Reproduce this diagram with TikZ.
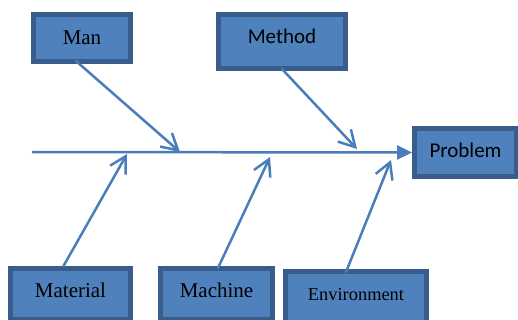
\documentclass[tikz,border=0pt]{standalone}
\usepackage{fontspec}
\setmainfont{Liberation Serif}
\newfontfamily\calibri{Carlito}
\usetikzlibrary{arrows.meta}
\definecolor{boxfill}{RGB}{79,129,189}
\definecolor{boxline}{RGB}{56,93,138}
\definecolor{bonecol}{RGB}{74,126,187}
\begin{document}
\begin{tikzpicture}[x=1pt,y=-1pt,
    cause/.style={draw=boxline,fill=boxfill,line width=5pt,line join=miter,inner sep=0pt,
      font=\fontsize{21}{25}\selectfont},
    bone/.style={draw=bonecol,line width=2.5pt,line cap=round,line join=round,
      -{Straight Barb[length=16pt,width=18pt,line width=2.5pt]}},
    spine/.style={draw=bonecol,line width=2.5pt,
      -{Triangle[length=15pt,width=14pt]}}]
    \clip (0,0) rectangle (518,320);
    % boxes
    \node[cause,minimum width=97pt,minimum height=47pt] (man) at (82,38) {Man};
    \node[cause,minimum width=127pt,minimum height=54pt,text depth=9.7pt,
      font=\calibri\fontsize{21}{25}\selectfont] (method) at (282,41.5) {Method};
    \node[cause,minimum width=102pt,minimum height=48pt,text depth=4pt,
      font=\calibri\fontsize{21}{25}\selectfont] (problem) at (465.5,152.5) {Problem};
    \node[cause,minimum width=120pt,minimum height=51pt,text height=14pt,text depth=8pt]
      (material) at (70.5,294) {Material};
    \node[cause,minimum width=112pt,minimum height=51pt,text height=14pt,text depth=8pt]
      (machine) at (216.5,294) {Machine};
    \node[cause,minimum width=141pt,minimum height=51pt,text height=13pt,text depth=7pt,
      font=\fontsize{18.4}{22}\selectfont] (environment) at (356,297) {Environment};
    % spine
    \coordinate (tail) at (32,152);
    \draw[spine] (tail) -- (problem.west);
    % bones
    \coordinate (manend) at (180,152);
    \coordinate (methodend) at (357,149);
    \coordinate (materialend) at (127,154);
    \coordinate (machineend) at (270,157);
    \coordinate (environmentend) at (391,160);
    \draw[bone] ([xshift=-6pt,yshift=3pt]man.south) -- (manend);
    \draw[bone] ([yshift=2pt]method.south) -- (methodend);
    \draw[bone] ([xshift=-7pt]material.north) -- (materialend);
    \draw[bone] ([xshift=1.5pt,yshift=-2pt]machine.north) -- (machineend);
    \draw[bone] ([xshift=-10pt,yshift=-3pt]environment.north) -- (environmentend);
\end{tikzpicture}
\end{document}
